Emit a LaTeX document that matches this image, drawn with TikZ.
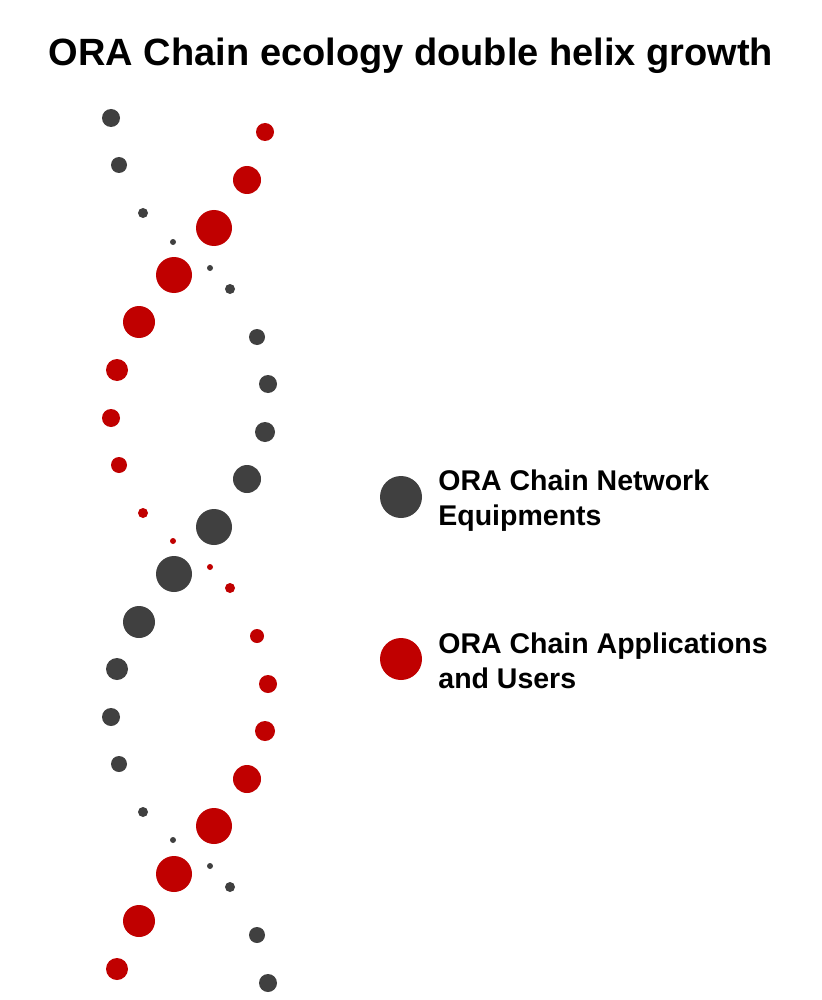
\documentclass[tikz,border=0pt]{standalone}
\usepackage{fontspec}
\setmainfont{Liberation Sans}
\usetikzlibrary{positioning}
\definecolor{dotgray}{RGB}{64,64,64}
\definecolor{dotred}{RGB}{192,0,0}

\begin{document}
\begin{tikzpicture}[
    x=1pt, y=-1pt,
    dot/.style={circle, inner sep=0pt, minimum size=#1},
    gray dot/.style={dot=#1, fill=dotgray},
    red dot/.style={dot=#1, fill=dotred},
    legend/.style={align=left, anchor=west, inner sep=0pt, font=\bfseries\fontsize{28.5}{35}\selectfont}
]
    \useasboundingbox (0,0) rectangle (821,1000);
    \node[font=\bfseries\fontsize{38}{44}\selectfont] (title) at (411,56) {ORA Chain ecology double helix growth};

    % network equipment strand
    \foreach \x/\y/\d [count=\i] in {111/118/18, 119/165/16, 143/213/10, 173/242/6, 210/268/6, 230/289/10,
        257/337/16, 268/384/18, 265/432/20, 247/479/28, 214/527/36, 174/574/36, 139/622/32, 117/669/22,
        111/717/18, 119/764/16, 143/812/10, 173/840/6, 210/866/6, 230/887/10, 257/935/16, 268/983/18}
        \node[gray dot=\d] (g\i) at (\x,\y) {};

    % applications and users strand
    \foreach \x/\y/\d [count=\i] in {265/132/18, 247/180/28, 214/228/36, 174/275/36, 139/322/32, 117/370/22,
        111/418/18, 119/465/16, 143/513/10, 173/541/6, 210/567/6, 230/588/10, 257/636/14, 268/684/18,
        265/731/20, 247/779/28, 214/826/36, 174/874/36, 139/921/32, 117/969/22}
        \node[red dot=\d] (r\i) at (\x,\y) {};

    % legend
    \node[gray dot=42] (keynet) at (401,497) {};
    \node[legend, right=16pt of keynet, yshift=-4pt] (txtnet) {ORA Chain Network\\Equipments};
    \node[red dot=42] (keyapp) at (401,659) {};
    \node[legend, right=16pt of keyapp, yshift=-2pt] (txtapp) {ORA Chain Applications\\and Users};
\end{tikzpicture}
\end{document}
